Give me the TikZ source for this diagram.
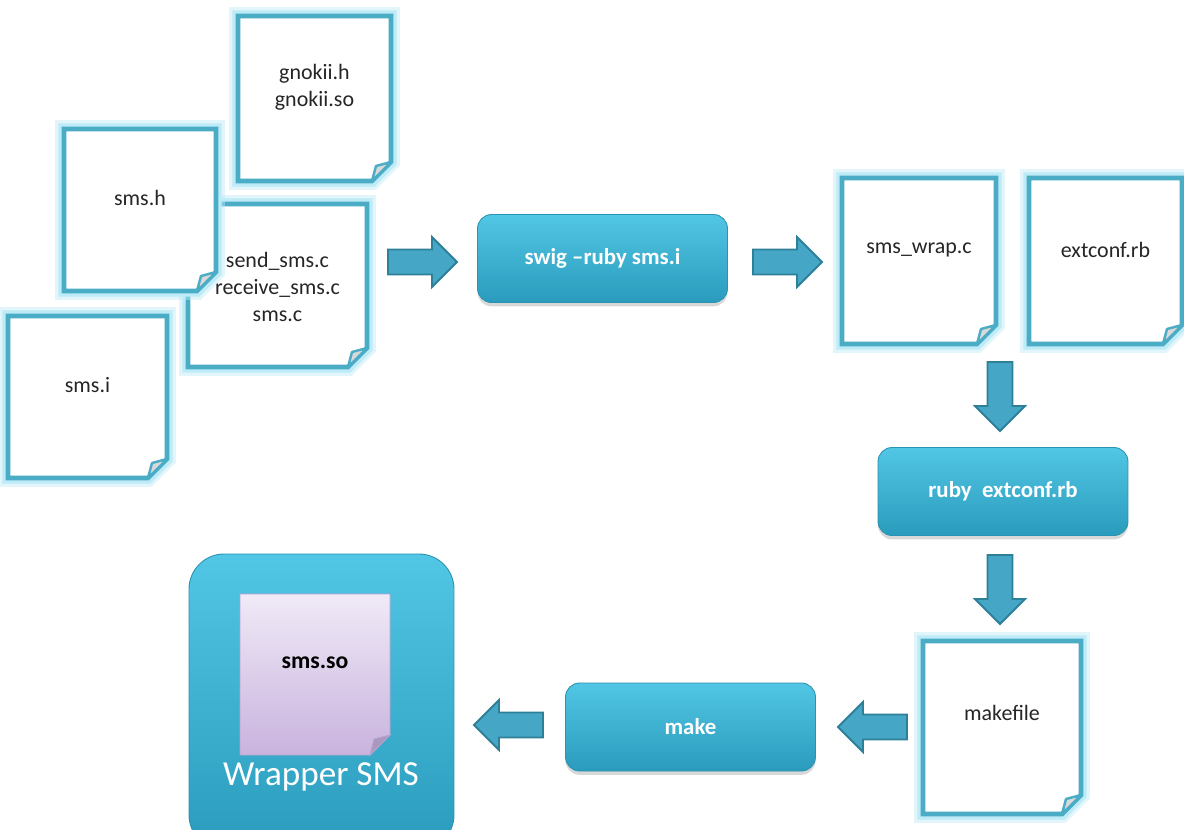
\documentclass[tikz,border=0pt]{standalone}
\usepackage{fontspec}
\setmainfont{Carlito}
\usetikzlibrary{shadows,calc}

\definecolor{aqua}{HTML}{4BACC6}
\definecolor{aquaglow}{HTML}{BDEBF7}
\definecolor{arrowfill}{HTML}{46A6C6}
\definecolor{arrowline}{HTML}{2E7F98}
\definecolor{boxtop}{HTML}{52C6E5}
\definecolor{boxbot}{HTML}{2A9BBC}
\definecolor{boxline}{HTML}{2B93B2}
\definecolor{lavtop}{HTML}{F0EAF7}
\definecolor{lavbot}{HTML}{C9B3DE}
\definecolor{lavline}{HTML}{B9A2D2}

\tikzset{
  x=0.02cm, y=-0.02cm,
  docglowout/.style={draw=aquaglow, line width=10pt, line join=miter, opacity=0.45},
  docglow/.style={draw=aquaglow, line width=6.5pt, line join=miter},
  docbody/.style={fill=white, draw=aqua, line width=2.6pt, line join=miter},
  docflap/.style={fill=gray!30, draw=aqua, line width=1.4pt, line join=round},
  doctext/.style={font=\fontsize{12.5}{15.5}\selectfont, text=black!85, align=center, inner sep=0pt},
  procbox/.style={rounded corners=8pt, top color=boxtop, bottom color=boxbot,
    draw=boxline, line width=0.5pt,
    drop shadow={opacity=0.3, shadow xshift=0pt, shadow yshift=-2.2pt},
    text=white, font=\bfseries\fontsize{13}{16}\selectfont,
    minimum width=5cm, minimum height=1.76cm, inner sep=0pt},
  arrowbody/.style={fill=arrowfill, draw=arrowline, line width=1.1pt, line join=miter},
  blockarrow/.pic={
    \path[arrowbody] (0,-12.5) -- (44,-12.5) -- (44,-25) -- (69,0) -- (44,25)
      -- (44,12.5) -- (0,12.5) -- cycle;
  }
}

% \filedoc{name}{x1}{y1}{x2}{y2}{text y offset}{text}
\newcommand\filedoc[7]{%
  \path[docglowout] (#2,#3) -- (#4,#3) -- (#4,#5-19) -- (#4-19,#5) -- (#2,#5) -- cycle;
  \path[docglow] (#2,#3) -- (#4,#3) -- (#4,#5-19) -- (#4-19,#5) -- (#2,#5) -- cycle;
  \path[docbody] (#2,#3) -- (#4,#3) -- (#4,#5-19) -- (#4-19,#5) -- (#2,#5) -- cycle;
  \path[docflap] (#4-19,#5) -- (#4,#5-19) -- (#4-15,#5-15) -- cycle;
  \node[doctext] (#1) at ({(#2+#4)/2},#3+#6) {#7};
}

\begin{document}
\begin{tikzpicture}
  \useasboundingbox[fill=white] (0,0) rectangle (1184,829);

  % source files
  \filedoc{smsi}{8}{316}{167}{478}{69}{sms.i}
  \filedoc{sources}{188}{204}{367}{367}{83}{send\_sms.c\\receive\_sms.c\\sms.c}
  \filedoc{smsh}{64}{129}{216}{291}{69}{sms.h}
  \filedoc{gnokii}{238}{16}{391}{181}{71}{gnokii.h\\gnokii.so}

  % generated files
  \filedoc{wrapc}{842}{178}{996}{344}{72}{sms\_wrap.c}
  \filedoc{extconf}{1029}{178}{1182}{344}{72}{extconf.rb}
  \filedoc{makefile}{923}{641}{1081}{814}{72}{makefile}

  % build steps
  \node[procbox] (swig) at (602.5,258.5) {swig –ruby sms.i};
  \node[procbox] (ruby) at (1003,491.5) {ruby\ \ extconf.rb};
  \node[procbox] (make) at (690.5,727) {make};

  % resulting library
  \path[rounded corners=20pt, top color=boxtop, bottom color=boxbot,
        draw=boxline, line width=0.5pt]
    (189,554) rectangle (454,850);
  \path[draw=lavline, line width=0.5pt, top color=lavtop, bottom color=lavbot]
    (240,594) -- (390,594) -- (390,735) -- (370,755) -- (240,755) -- cycle;
  \path[fill=lavbot!85!black, draw=lavline, line width=0.5pt]
    (370,755) -- (390,735) -- (374,739) -- cycle;
  \node[font=\bfseries\fontsize{13.5}{16}\selectfont, text=black, inner sep=0pt]
    (smsso) at (315,663) {sms.so};
  \node[font=\fontsize{20}{24}\selectfont, text=white, inner sep=0pt]
    (wrapper) at (321,777) {Wrapper SMS};

  % flow arrows
  \pic at (388,262) {blockarrow};
  \pic at (753,262) {blockarrow};
  \pic[rotate=-90] at (1000,362) {blockarrow};
  \pic[rotate=-90] at (1000,555) {blockarrow};
  \pic[rotate=180] at (907,727) {blockarrow};
  \pic[rotate=180] at (543,725) {blockarrow};
\end{tikzpicture}
\end{document}
